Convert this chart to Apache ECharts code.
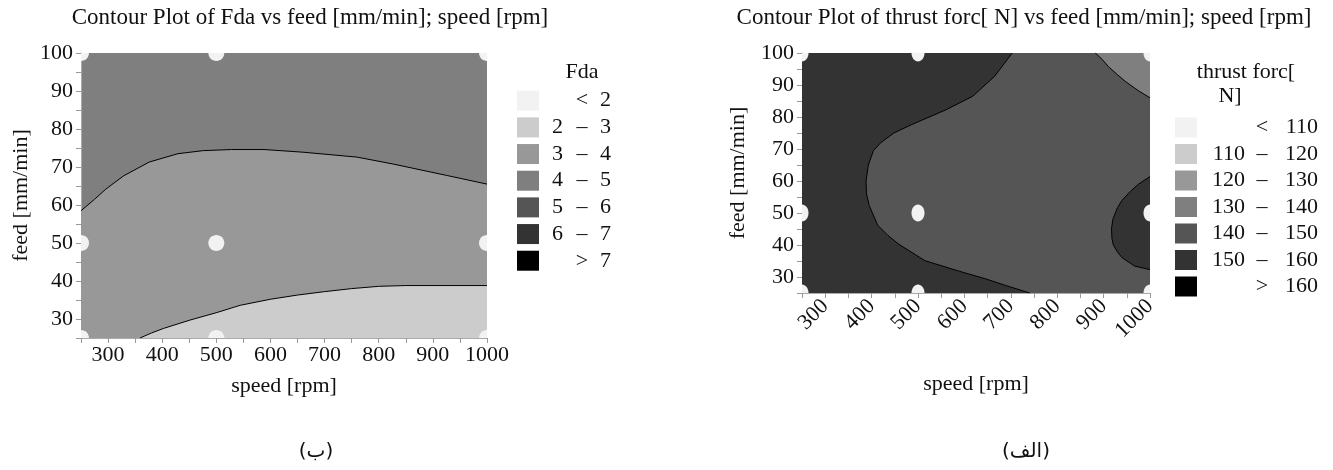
<!DOCTYPE html>
<html>
<head>
<meta charset="utf-8">
<script src="https://cdn.jsdelivr.net/npm/echarts@6/dist/echarts.min.js"></script>
<style>
  html, body { margin: 0; padding: 0; background: #fff; }
  #main { width: 1333px; height: 470px; }
</style>
</head>
<body>
<div id="main"></div>
<script>
// axis ranges and design points (same for both plots)
const speedRange = [250, 1000];
const feedRange = [25, 100];
const designSpeed = [250, 500, 1000];
const designFeed = [25, 50, 100];

// Fda contour lines, [speed, feed]
const fda4Contour = [[250, 58.5], [275, 61.5], [296, 64.2], [329, 67.7], [376, 71.3], [429, 73.5], [475, 74.3],
  [528, 74.6], [588, 74.6], [660, 73.9], [760, 72.6], [826, 70.8], [925, 67.8], [1000, 65.5]];
const fda3Contour = [[359, 25], [380, 26.3], [402, 27.5], [451, 29.7], [501, 31.7], [544, 33.6], [600, 35.2],
  [650, 36.3], [700, 37.2], [750, 38], [800, 38.6], [850, 38.8], [1000, 38.8]];
const fdaBreaks = [2, 3, 4, 5, 6, 7];

// thrust force contour lines, [speed, feed]
const thrust150West = [[703, 100], [665, 92.7], [618, 86.5], [561, 82.3], [486, 77.6], [448, 75], [420, 72],
  [404, 69.5], [393, 65], [388, 60], [389, 56], [395, 52.3], [413, 46.2], [435, 43], [459, 40.2], [515, 35.1],
  [589, 31.8], [644, 29.5], [690, 27.3], [741, 25]];
const thrust150East = [[1000, 61.4], [975, 59], [958, 56.8], [940, 54], [930, 51.7], [920, 48], [917, 45.1],
  [918, 42], [921, 40], [930, 37.8], [940, 36], [967, 33.4], [1000, 32.3]];
const thrust140 = [[882, 100], [897, 98], [910, 95.8], [930, 93.2], [948, 91], [975, 88.2], [1000, 86]];
const thrustBreaks = [110, 120, 130, 140, 150, 160];

const grays = ['#f2f2f2', '#cccccc', '#989898', '#7f7f7f', '#555555', '#333333', '#000000'];
const serif = 'Liberation Serif';

const designPoints = [];
designFeed.forEach((f) => {
  designSpeed.forEach((s) => designPoints.push([s, f]));
});

function regionSeries(idx, points, color) {
  return {
    type: 'custom',
    xAxisIndex: idx,
    yAxisIndex: idx,
    silent: true,
    clip: true,
    z: 2,
    data: [0],
    renderItem: (params, api) => ({
      type: 'polygon',
      shape: { points: points.map((p) => api.coord(p)) },
      style: { fill: color, stroke: null },
    }),
  };
}

function contourLine(idx, points) {
  return {
    type: 'line',
    xAxisIndex: idx,
    yAxisIndex: idx,
    data: points,
    symbol: 'none',
    silent: true,
    z: 3,
    lineStyle: { color: '#000', width: 1 },
  };
}

// design points drawn as custom ellipses so they get cut at the plot edge
function designSeries(idx, rx, ry) {
  return {
    type: 'custom',
    xAxisIndex: idx,
    yAxisIndex: idx,
    data: designPoints,
    silent: true,
    clip: true,
    z: 4,
    renderItem: (params, api) => {
      const c = api.coord([api.value(0), api.value(1)]);
      return { type: 'ellipse', shape: { cx: c[0], cy: c[1], rx, ry }, style: { fill: grays[0] } };
    },
  };
}

const labelFont = { fontFamily: serif, fontSize: 22, color: '#111' };

function xAxisFor(idx, rotate, margin, nameGap) {
  return {
    type: 'value',
    gridIndex: idx,
    min: speedRange[0],
    max: speedRange[1],
    interval: 50,
    name: 'speed [rpm]',
    nameLocation: 'middle',
    nameGap,
    nameTextStyle: labelFont,
    axisLine: { show: true, lineStyle: { color: '#aaa' } },
    axisTick: { show: true, length: 5, lineStyle: { color: '#999' } },
    axisLabel: Object.assign({ rotate, margin, formatter: (v) => (v % 100 === 0 ? v : '') }, labelFont),
    splitLine: { show: false },
  };
}

function yAxisFor(idx, nameGap) {
  return {
    type: 'value',
    gridIndex: idx,
    min: feedRange[0],
    max: feedRange[1],
    interval: 5,
    name: 'feed [mm/min]',
    nameLocation: 'middle',
    nameGap,
    nameTextStyle: labelFont,
    axisLine: { show: true, lineStyle: { color: '#aaa' } },
    axisTick: { show: true, length: 5, lineStyle: { color: '#999' } },
    axisLabel: Object.assign({ margin: 8, formatter: (v) => (v % 10 === 0 ? v : '') }, labelFont),
    splitLine: { show: false },
  };
}

// legend rows built from the level breaks
function legendRows(breaks) {
  const rows = [['', '<', breaks[0]]];
  for (let i = 1; i < breaks.length; i++) rows.push([breaks[i - 1], '–', breaks[i]]);
  rows.push(['', '>', breaks[breaks.length - 1]]);
  return rows;
}

function legendGraphics(titleLines, breaks, pos) {
  const els = [];
  titleLines.forEach((t, i) => {
    els.push({
      type: 'text', x: pos.titleX[i], y: pos.titleY + i * 24,
      style: { text: t, font: `22px "${serif}"`, fill: '#111', align: 'center', verticalAlign: 'middle' },
    });
  });
  legendRows(breaks).forEach((row, i) => {
    const cy = pos.rowY + i * pos.pitch;
    els.push({ type: 'rect', shape: { x: pos.boxX, y: cy - 10, width: 22, height: 20 }, style: { fill: grays[i] } });
    const parts = [[row[0], pos.lowX, 'right'], [row[1], pos.dashX, 'center'], [row[2], pos.highX, 'right']];
    parts.forEach((p) => {
      els.push({
        type: 'text', x: p[1], y: cy,
        style: { text: String(p[0]), font: `22px "${serif}"`, fill: '#111', align: p[2], verticalAlign: 'middle' },
      });
    });
  });
  return els;
}

const chart = echarts.init(document.getElementById('main'));
chart.setOption({
  animation: false,
  backgroundColor: '#fff',
  title: [
    { text: 'Contour Plot of Fda vs feed [mm/min]; speed [rpm]', left: 310, top: 6, textAlign: 'center', padding: 0,
      textStyle: { fontFamily: serif, fontSize: 23, fontWeight: 'normal', color: '#111' } },
    { text: 'Contour Plot of thrust forc[ N] vs feed [mm/min]; speed [rpm]', left: 1024, top: 6, textAlign: 'center', padding: 0,
      textStyle: { fontFamily: serif, fontSize: 23, fontWeight: 'normal', color: '#111' } },
  ],
  grid: [
    { left: 81, top: 53, width: 406, height: 285, show: true, borderWidth: 0, backgroundColor: grays[3] },
    { left: 802, top: 53, width: 348, height: 240, show: true, borderWidth: 0, backgroundColor: grays[4] },
  ],
  xAxis: [xAxisFor(0, 0, 6, 37), xAxisFor(1, 45, 10, 80)],
  yAxis: [yAxisFor(0, 49), yAxisFor(1, 53)],
  series: [
    regionSeries(0, [[speedRange[0], feedRange[0]], ...fda4Contour, [speedRange[1], feedRange[0]]], grays[2]),
    regionSeries(0, [...fda3Contour, [speedRange[1], feedRange[0]]], grays[1]),
    contourLine(0, fda4Contour),
    contourLine(0, fda3Contour),
    designSeries(0, 8, 8),
    regionSeries(1, [[speedRange[0], feedRange[1]], ...thrust150West, [speedRange[0], feedRange[0]]], grays[5]),
    regionSeries(1, thrust150East, grays[5]),
    regionSeries(1, [...thrust140, [speedRange[1], feedRange[1]]], grays[3]),
    contourLine(1, thrust150West),
    contourLine(1, thrust150East),
    contourLine(1, thrust140),
    designSeries(1, 6.5, 8.5),
  ],
  graphic: [
    ...legendGraphics(['Fda'], fdaBreaks,
      { titleX: [582], titleY: 72, rowY: 100.7, pitch: 26.67, boxX: 517, lowX: 563, dashX: 582, highX: 611 }),
    ...legendGraphics(['thrust forc[', 'N]'], thrustBreaks,
      { titleX: [1246, 1230], titleY: 72, rowY: 127.5, pitch: 26.5, boxX: 1175, lowX: 1245, dashX: 1262, highX: 1318 }),
    { type: 'text', x: 316, y: 452, style: { text: '(ب)', font: '20px "DejaVu Sans"', fill: '#111', align: 'center', verticalAlign: 'middle' } },
    { type: 'text', x: 1026, y: 452, style: { text: '(الف)', font: '20px "DejaVu Sans"', fill: '#111', align: 'center', verticalAlign: 'middle' } },
  ],
});
</script>
</body>
</html>
